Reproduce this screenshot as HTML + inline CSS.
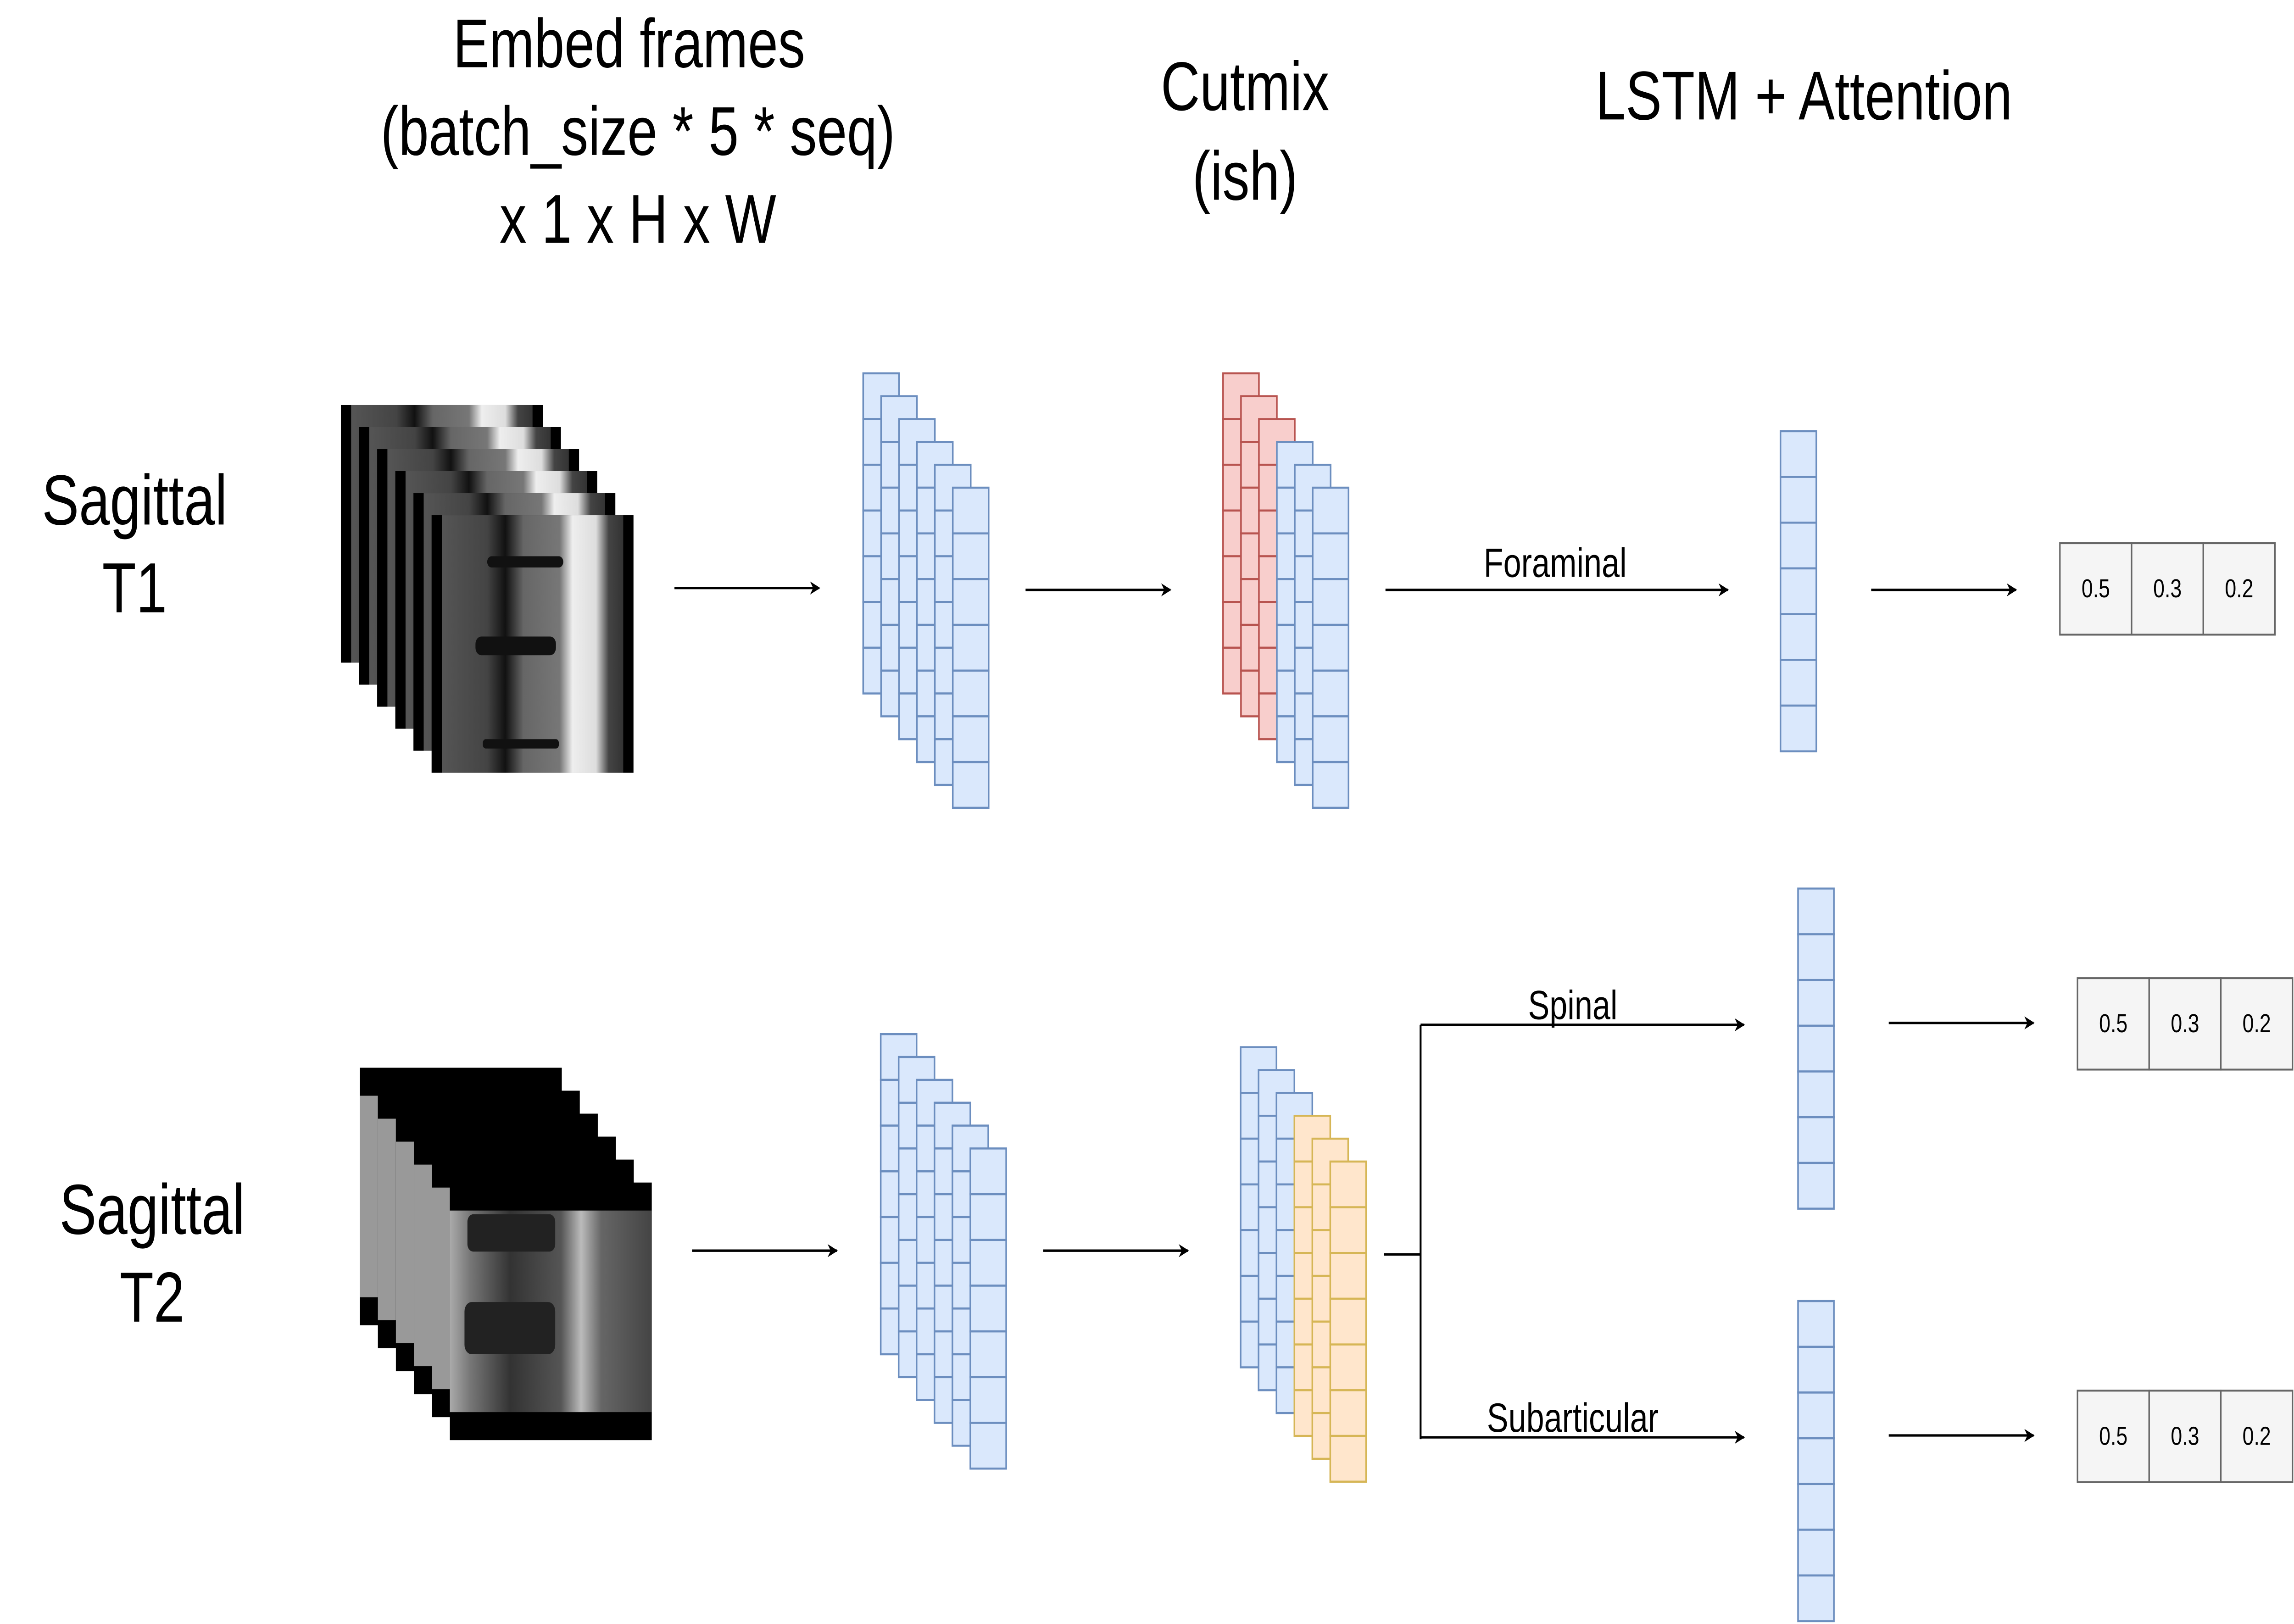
<!DOCTYPE html>
<html><head><meta charset="utf-8"><style>
html,body{margin:0;padding:0;background:#fff;overflow:hidden;width:100%;height:100%}
svg{display:block;width:100vw;height:100vh}
text{font-family:"Liberation Sans",sans-serif;fill:#000}
</style></head><body>
<svg id="s" viewBox="0 0 1568 870" preserveAspectRatio="none" xmlns="http://www.w3.org/2000/svg">
<defs>
<marker id="ah" viewBox="0 0 10 10" refX="9" refY="5" markerWidth="7" markerHeight="7" markerUnits="userSpaceOnUse" orient="auto"><path d="M0,0 L10,5 L0,10 L3,5 Z" fill="#000"/></marker>
<linearGradient id="t1g" x1="0" x2="1" y1="0" y2="0">
<stop offset="0" stop-color="#555"/><stop offset="0.25" stop-color="#444"/><stop offset="0.35" stop-color="#111"/><stop offset="0.45" stop-color="#666"/><stop offset="0.65" stop-color="#777"/><stop offset="0.72" stop-color="#eee"/><stop offset="0.85" stop-color="#ddd"/><stop offset="0.92" stop-color="#444"/><stop offset="1" stop-color="#333"/>
</linearGradient>
<linearGradient id="t2g" x1="0" x2="1" y1="0" y2="0">
<stop offset="0" stop-color="#aaa"/><stop offset="0.1" stop-color="#777"/><stop offset="0.3" stop-color="#333"/><stop offset="0.55" stop-color="#555"/><stop offset="0.65" stop-color="#bbb"/><stop offset="0.75" stop-color="#666"/><stop offset="1" stop-color="#444"/>
</linearGradient>
</defs>
<g id="content"></g>
</svg>
<script>
const NS="http://www.w3.org/2000/svg";
const root=document.getElementById('content');
function el(tag,attrs,parent){const e=document.createElementNS(NS,tag);for(const k in attrs)e.setAttribute(k,attrs[k]);(parent||root).appendChild(e);return e;}
function txt(x,y,s,size,name,anchor){const t=el('text',{x:x,y:y,'font-size':size,'text-anchor':anchor||'middle'});t.textContent=s;


return t;}
function arrow(x1,y1,x2,y2,name){const l=el('line',{x1:x1,y1:y1,x2:x2,y2:y2,stroke:'#000','stroke-width':1.3,'marker-end':'url(#ah)'});

}
const BLUE=['#dae8fc','#6c8ebf'],RED=['#f8cecc','#b85450'],ORG=['#ffe6cc','#d6b656'];
function column(x,y,c,name,w,n){w=w||24.5;n=n||7;const g=el('g',{});


for(let i=0;i<n;i++){el('rect',{x:x,y:y+i*w,width:w,height:w,fill:c[0],stroke:c[1],'stroke-width':1.1},g);}}
function stack(x,y,colors,name){for(let i=0;i<6;i++)column(x+i*12.25,y+i*12.25,colors[i],name+'-column-'+(i+1));}
function mriT1(x,y,name){for(let i=0;i<6;i++){const g=el('g',{});


const fx=x+i*12.4,fy=y+i*11.8;el('rect',{x:fx,y:fy,width:138,height:138,fill:'#000'},g);
el('rect',{x:fx+7,y:fy,width:124,height:138,fill:'url(#t1g)'},g);
if(i==5){el('rect',{x:fx+38,y:fy+22,width:52,height:6,fill:'#111',rx:3},g);el('rect',{x:fx+30,y:fy+65,width:55,height:10,fill:'#111',rx:4},g);el('rect',{x:fx+35,y:fy+120,width:52,height:5,fill:'#111',rx:2},g);}}}
function mriT2(x,y,name){for(let i=0;i<6;i++){const g=el('g',{});


const fx=x+i*12.3,fy=y+i*12.3;el('rect',{x:fx,y:fy,width:138,height:138,fill:'#000'},g);
el('rect',{x:fx,y:fy+15,width:i==5?138:12.3,height:108,fill:i==5?'url(#t2g)':'#999'},g);
if(i==5){el('rect',{x:fx+12,y:fy+17,width:60,height:20,fill:'#222',rx:4},g);el('rect',{x:fx+10,y:fy+64,width:62,height:28,fill:'#222',rx:5},g);}}}
function outBox(x,y,name){const vals=['0.5','0.3','0.2'];const g=el('g',{});


for(let i=0;i<3;i++){el('rect',{x:x+i*49,y:y,width:49,height:49,fill:'#f5f5f5',stroke:'#666','stroke-width':1},g);
const t=el('text',{x:x+i*49+24.5,y:y+29,'font-size':14,'text-anchor':'middle',fill:'#333'},g);t.textContent=vals[i];}}

txt(430,36,'Embed frames',37,'embed-frames-title');
txt(436,83,'(batch_size * 5 * seq)',37,'embed-shape-title');
txt(436,130,'x 1 x H x W',37,'embed-dims-title');
txt(851,59,'Cutmix',37,'cutmix-title');
txt(851,107,'(ish)',37,'cutmix-subtitle');
txt(1233,64,'LSTM + Attention',37,'lstm-attention-title');
txt(92,281,'Sagittal',38,'sagittal-t1-label');
txt(92,328,'T1',38,'t1-label');
txt(104,661,'Sagittal',38,'sagittal-t2-label');
txt(104,708,'T2',38,'t2-label');

mriT1(233,217,'t1-mri');
arrow(461,315,560,315,'t1-embed-arrow');
const B=[BLUE,BLUE,BLUE,BLUE,BLUE,BLUE];
stack(590,200,B,'t1-embedding');
arrow(701,316,800,316,'t1-cutmix-arrow');
stack(836,200,[RED,RED,RED,BLUE,BLUE,BLUE],'t1-cutmix');
arrow(947,316,1181,316,'foraminal-arrow');
txt(1063,309,'Foraminal',22,'foraminal-label');
column(1217,231,BLUE,'foraminal-lstm',24.5,7);
arrow(1279,316,1378,316,'foraminal-output-arrow');
outBox(1408,291,'foraminal-output');

mriT2(246,572,'t2-mri');
arrow(473,670,572,670,'t2-embed-arrow');
stack(602,554,B,'t2-embedding');
arrow(713,670,812,670,'t2-cutmix-arrow');
stack(848,561,[BLUE,BLUE,BLUE,ORG,ORG,ORG],'t2-cutmix');
const br=el('path',{d:'M946,672 L971,672 M971,549 L971,771',stroke:'#000','stroke-width':1.3,fill:'none'});


arrow(971,549,1192,549,'spinal-arrow');
txt(1075,546,'Spinal',22,'spinal-label');
arrow(971,770,1192,770,'subarticular-arrow');
txt(1075,767,'Subarticular',22,'subarticular-label');
column(1229,476,BLUE,'spinal-lstm',24.5,7);
column(1229,697,BLUE,'subarticular-lstm',24.5,7);
arrow(1291,548,1390,548,'spinal-output-arrow');
arrow(1291,769,1390,769,'subarticular-output-arrow');
outBox(1420,524,'spinal-output');
outBox(1420,745,'subarticular-output');
</script>
</body></html>
